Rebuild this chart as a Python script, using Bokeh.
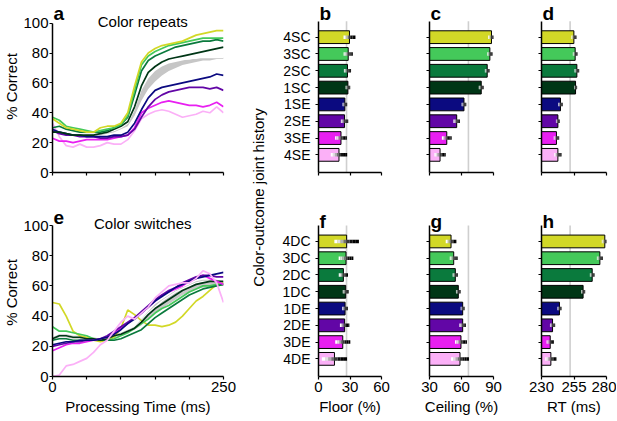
import numpy as np
from bokeh.plotting import figure
from bokeh.layouts import row, column
from bokeh.models import Range1d, FixedTicker, Label
from bokeh.embed import file_html
from bokeh.resources import INLINE

FONT = "Liberation Sans"

# ---------------- data ----------------
time_ms = [0, 10, 20, 30, 40, 50, 60, 70, 80, 90, 100, 110, 120, 130, 140, 150,
           160, 170, 180, 190, 200, 210, 220, 230, 240, 250]

# Panel a: colour repeats (% correct)
rep_4SC = [36, 33, 30, 29, 28, 27, 27, 30, 31, 31, 33, 40, 58, 74, 80, 83, 85, 86, 87, 88, 90, 92, 93, 94, 95, 95]
rep_3SC = [37, 35, 31, 30, 29, 28, 27, 28, 29, 30, 32, 38, 55, 72, 78, 81, 83, 85, 86, 87, 88, 89, 90, 90, 90, 90]
rep_2SC = [30, 31, 29, 28, 27, 27, 27, 27, 28, 30, 32, 37, 52, 68, 75, 78, 80, 82, 84, 85, 86, 87, 88, 88, 89, 88]
rep_1SC = [27, 27, 26, 25, 25, 25, 25, 26, 27, 29, 31, 34, 44, 58, 67, 71, 74, 76, 77, 78, 79, 80, 81, 82, 83, 84]
rep_1SE = [29, 27, 26, 25, 25, 24, 24, 24, 24, 25, 25, 27, 33, 42, 50, 55, 57, 58, 59, 60, 61, 62, 63, 64, 66, 65]
rep_2SE = [28, 26, 25, 25, 24, 24, 24, 23, 23, 24, 24, 25, 29, 37, 44, 49, 52, 54, 55, 56, 57, 57, 57, 56, 57, 55]
rep_3SE = [23, 21, 21, 20, 21, 22, 22, 22, 22, 23, 24, 25, 30, 40, 43, 45, 47, 48, 47, 46, 45, 45, 44, 45, 47, 44]
rep_4SE = [33, 24, 18, 17, 19, 17, 17, 18, 20, 19, 19, 22, 28, 36, 39, 41, 42, 41, 39, 37, 38, 39, 41, 40, 44, 40]
rep_band_lo = [29, 27, 26, 25, 25, 25, 25, 25, 26, 27, 29, 31, 38, 48, 56, 61, 65, 68, 70, 72, 73, 74, 75, 75, 76, 76]
rep_band_hi = [30, 28, 27, 26, 26, 26, 26, 26, 27, 28, 30, 33, 42, 55, 63, 68, 71, 73, 74, 75, 76, 76, 77, 77, 77, 77]
rep_white = [29, 28, 27, 26, 26, 25, 25, 26, 27, 28, 30, 33, 43, 57, 65, 69, 72, 74, 75, 76, 76, 77, 77, 77, 77, 77]

# Panel e: colour switches (% correct)
sw_4DC = [49, 48, 40, 30, 27, 26, 24, 23, 24, 26, 32, 44, 41, 37, 34, 34, 33, 34, 36, 40, 45, 50, 53, 57, 61, 62]
sw_3DC = [33, 30, 30, 29, 28, 27, 25, 24, 24, 25, 27, 29, 32, 35, 38, 42, 45, 47, 50, 53, 56, 58, 60, 60, 61, 61]
sw_2DC = [24, 25, 25, 24, 24, 24, 24, 24, 24, 24, 25, 27, 29, 31, 35, 39, 42, 45, 48, 51, 54, 56, 58, 59, 60, 61]
sw_1DC = [25, 27, 27, 26, 26, 25, 25, 24, 25, 27, 28, 30, 32, 36, 41, 45, 48, 51, 54, 57, 59, 61, 62, 63, 63, 63]
sw_1DE = [21, 22, 23, 23, 24, 24, 24, 25, 26, 28, 31, 35, 38, 42, 46, 50, 53, 56, 59, 61, 63, 65, 66, 67, 68, 69]
sw_2DE = [20, 21, 22, 23, 23, 24, 24, 25, 27, 30, 33, 36, 39, 43, 47, 51, 54, 57, 59, 62, 64, 66, 67, 67, 66, 66]
sw_3DE = [17, 19, 21, 22, 22, 23, 24, 25, 26, 29, 32, 35, 39, 42, 46, 50, 54, 56, 58, 60, 63, 65, 67, 65, 63, 61]
sw_4DE = [0, 1, 7, 8, 10, 12, 16, 21, 24, 30, 36, 40, 38, 42, 46, 52, 56, 60, 61, 62, 62, 65, 70, 68, 62, 49]
sw_band_lo = [24, 26, 26, 25, 25, 24, 24, 23, 24, 26, 27, 29, 31, 34, 38, 42, 45, 48, 51, 54, 56, 58, 59, 60, 60, 60]
sw_band_hi = [26, 28, 28, 27, 27, 26, 26, 25, 26, 28, 29, 31, 33, 38, 43, 48, 51, 54, 57, 59, 61, 63, 64, 64, 64, 63]
sw_white = [25, 27, 27, 26, 26, 25, 25, 24, 25, 27, 28, 30, 32, 37, 42, 46, 50, 53, 56, 58, 60, 62, 63, 63, 63, 62]

cats_rep = ["4SC", "3SC", "2SC", "1SC", "1SE", "2SE", "3SE", "4SE"]
cats_sw = ["4DC", "3DC", "2DC", "1DC", "1DE", "2DE", "3DE", "4DE"]
hist_colors = ["#d2d827", "#44c95a", "#0a7a3d", "#003616",
               "#0b0a80", "#6206a6", "#e81ff1", "#fbb0f7"]

floor_rep = [29.5, 28.3, 27.6, 28.0, 25.1, 24.8, 21.4, 19.5]
floor_rep_err = [5.7, 4.4, 3.4, 2.2, 2.2, 3.5, 5.6, 7.8]
ceil_rep = [88.1, 86.6, 84.1, 78.5, 62.3, 55.5, 46.2, 39.9]
ceil_rep_err = [3.1, 2.5, 2.2, 2.3, 2.2, 3.1, 4.6, 5.3]
rt_rep = [254.9, 255.9, 257.2, 256.2, 244.6, 242.6, 241.5, 242.6]
rt_rep_err = [2.0, 1.8, 1.8, 1.2, 1.8, 1.5, 2.1, 2.8]

floor_sw = [26.8, 26.2, 23.7, 25.9, 25.3, 24.9, 23.1, 15.2]
floor_sw_err = [11.7, 7.0, 4.4, 2.8, 2.8, 4.5, 7.2, 12.0]
ceil_sw = [50.2, 52.7, 54.2, 57.0, 61.1, 61.1, 59.5, 58.6]
ceil_sw_err = [5.0, 3.7, 2.5, 2.2, 1.9, 3.1, 5.6, 8.4]
rt_sw = [278.7, 274.9, 269.0, 262.0, 243.8, 238.5, 236.7, 237.2]
rt_sw_err = [2.3, 2.3, 1.8, 1.6, 1.6, 2.0, 2.8, 4.3]

floor_ref = 26.7
ceil_ref = 66.5
rt_ref = 252.0

floor_ticks = [0, 30, 60]
ceil_ticks = [30, 60, 90]
rt_ticks = [230, 255, 280]
time_ticks = [0, 50, 100, 150, 200, 250]
pct_ticks = [0, 20, 40, 60, 80, 100]

GRAD = ["#ffffff", "#e0e0e0", "#b0b0b0", "#707070", "#383838", "#101010", "#000000", "#000000"]

# layout geometry (pixels)
H_TOP, FH_TOP = 208, 172     # figure height, frame height (top row)
H_BOT, FH_BOT = 212, 168     # bottom row
PAD_LINE_TOP, PAD_BAR_TOP = 22.7, 20.7
PAD_LINE_BOT, PAD_BAR_BOT = 17.0, 17.0


def style(p):
    for ax in (p.xaxis[0], p.yaxis[0]):
        ax.axis_line_color = "black"
        ax.axis_line_width = 1.5
        ax.major_tick_line_color = "black"
        ax.major_tick_line_width = 1.2
        ax.major_tick_in = 0
        ax.major_tick_out = 3
        ax.minor_tick_line_color = None
        ax.major_label_text_font = FONT
        ax.major_label_text_font_size = "15px"
        ax.major_label_text_color = "black"
        ax.axis_label_text_font = FONT
        ax.axis_label_text_font_size = "15px"
        ax.axis_label_text_font_style = "normal"
        ax.axis_label_text_color = "black"
        ax.major_label_standoff = 2
        ax.axis_label_standoff = 3
    p.yaxis.axis_label_standoff = 0
    p.xgrid.visible = False
    p.ygrid.visible = False
    p.outline_line_color = None
    p.background_fill_color = "white"
    p.border_fill_color = "white"


def blank_labels(ax, ticks):
    ax.major_label_overrides = {t: "" for t in ticks}


def letter(p, x, y, txt):
    p.add_layout(Label(x=x, y=y, text=txt, text_font=FONT, text_font_size="19px",
                       text_font_style="bold", text_color="black",
                       text_baseline="top", text_align="left", x_offset=1, y_offset=-2))


def line_panel(series, lo, hi, white, title, let, h, fh, pad, bottom):
    y_end = 100 + pad * 100.0 / (fh - pad)
    p = figure(width=243, height=h, x_range=Range1d(0, 250), y_range=Range1d(0, y_end),
               toolbar_location=None, output_backend="svg", tools="",
               min_border_left=52, min_border_right=20, min_border_top=0,
               min_border_bottom=h - fh)
    p.varea(x=time_ms, y1=lo, y2=hi, fill_color="#c6c6c6", fill_alpha=1)
    p.line(time_ms, white, line_color="white", line_width=1.3)
    for ys, col in series:
        p.line(time_ms, ys, line_color=col, line_width=1.7)
    style(p)
    p.yaxis.major_label_standoff = 1
    p.xaxis.ticker = FixedTicker(ticks=time_ticks)
    p.yaxis.ticker = FixedTicker(ticks=pct_ticks)
    p.yaxis.bounds = (0, 100)
    p.yaxis.axis_label = "% Correct"
    if bottom:
        p.xaxis.major_label_overrides = {50: "", 100: "", 150: "", 200: ""}
        p.xaxis.axis_label = "Processing Time (ms)"
    else:
        blank_labels(p.xaxis[0], time_ticks)
    p.add_layout(Label(x=132, y=100, text=title, text_font=FONT, text_font_size="15px",
                       text_color="black", text_align="center", text_baseline="middle",
                       y_offset=2))
    letter(p, 0, y_end, let)
    return p


def bar_panel(vals, errs, cats, ticks, ref, let, w, h, fh, pad, bl, br,
              show_cats, bottom, xlabel=None):
    x0, x1 = ticks[0], ticks[-1]
    n = len(cats)
    top_val, bot_val = 0.05, n + 1.05
    y_top = top_val - pad * (bot_val - top_val) / (fh - pad)
    p = figure(width=w, height=h, x_range=Range1d(x0, x1), y_range=Range1d(bot_val, y_top),
               toolbar_location=None, output_backend="svg", tools="",
               min_border_left=bl, min_border_right=br, min_border_top=0,
               min_border_bottom=h - fh)
    p.segment(x0=[ref], y0=[bot_val], x1=[ref], y1=[top_val], line_color="#cfcfcf",
              line_width=1.6)
    ypos = np.arange(1, n + 1)
    v = np.array(vals, dtype=float)
    e = np.array(errs, dtype=float)
    p.hbar(y=ypos, left=x0, right=v, height=0.76, fill_color=hist_colors,
           line_color="black", line_width=1)
    k = len(GRAD)
    sx0, sx1, sy, sc = [], [], [], []
    for j in range(k):
        a = v - e + 2 * e * j / k
        b = v - e + 2 * e * (j + 1) / k
        sx0 += list(a)
        sx1 += list(b)
        sy += list(ypos)
        sc += [GRAD[j]] * n
    p.segment(x0=sx0, y0=sy, x1=sx1, y1=sy, line_color=sc, line_width=3.5, line_cap="butt")
    style(p)
    p.xaxis.ticker = FixedTicker(ticks=ticks)
    p.yaxis.ticker = FixedTicker(ticks=list(ypos))
    p.yaxis.bounds = (top_val, bot_val)
    p.yaxis.major_label_standoff = 5
    if show_cats:
        p.yaxis.major_label_overrides = {int(i): c for i, c in zip(ypos, cats)}
        p.yaxis.major_label_text_font_size = "14px"
    else:
        blank_labels(p.yaxis[0], [int(i) for i in ypos])
    if not bottom:
        blank_labels(p.xaxis[0], ticks)
    if xlabel:
        p.xaxis.axis_label = xlabel
    letter(p, x0, y_top, let)
    return p


rep_series = [(rep_4SE, hist_colors[7]), (rep_3SE, hist_colors[6]), (rep_2SE, hist_colors[5]),
              (rep_1SE, hist_colors[4]), (rep_1SC, hist_colors[3]), (rep_2SC, hist_colors[2]),
              (rep_3SC, hist_colors[1]), (rep_4SC, hist_colors[0])]
sw_series = [(sw_4DC, hist_colors[0]), (sw_3DC, hist_colors[1]), (sw_2DC, hist_colors[2]),
             (sw_1DC, hist_colors[3]), (sw_3DE, hist_colors[6]), (sw_2DE, hist_colors[5]),
             (sw_1DE, hist_colors[4]), (sw_4DE, hist_colors[7])]

pa = line_panel(rep_series, rep_band_lo, rep_band_hi, rep_white, "Color repeats", "a",
                H_TOP, FH_TOP, PAD_LINE_TOP, False)
pe = line_panel(sw_series, sw_band_lo, sw_band_hi, sw_white, "Color switches", "e",
                H_BOT, FH_BOT, PAD_LINE_BOT, True)

# y label spanning both bar rows
pl = figure(width=27, height=H_TOP + H_BOT, x_range=Range1d(0, 1), y_range=Range1d(0, 1),
            toolbar_location=None, output_backend="svg", tools="",
            x_axis_location=None, y_axis_location=None,
            min_border_left=0, min_border_right=0, min_border_top=0, min_border_bottom=0)
pl.xgrid.visible = False
pl.ygrid.visible = False
pl.outline_line_color = None
pl.add_layout(Label(x=0.556, y=0.531, text="Color-outcome joint history", angle=np.pi / 2,
                    text_font=FONT, text_font_size="15px", text_color="black",
                    text_align="center", text_baseline="middle"))

pb = bar_panel(floor_rep, floor_rep_err, cats_rep, floor_ticks, floor_ref, "b",
               131, H_TOP, FH_TOP, PAD_BAR_TOP, 48, 20, True, False)
pf = bar_panel(floor_sw, floor_sw_err, cats_sw, floor_ticks, floor_ref, "f",
               131, H_BOT, FH_BOT, PAD_BAR_BOT, 48, 20, True, True, "Floor (%)")
pc = bar_panel(ceil_rep, ceil_rep_err, cats_rep, ceil_ticks, ceil_ref, "c",
               112, H_TOP, FH_TOP, PAD_BAR_TOP, 28, 20, False, False)
pg = bar_panel(ceil_sw, ceil_sw_err, cats_sw, ceil_ticks, ceil_ref, "g",
               112, H_BOT, FH_BOT, PAD_BAR_BOT, 28, 20, False, True, "Ceiling (%)")
pd = bar_panel(rt_rep, rt_rep_err, cats_rep, rt_ticks, rt_ref, "d",
               103, H_TOP, FH_TOP, PAD_BAR_TOP, 28, 10, False, False)
ph = bar_panel(rt_sw, rt_sw_err, cats_sw, rt_ticks, rt_ref, "h",
               103, H_BOT, FH_BOT, PAD_BAR_BOT, 28, 10, False, True, "RT (ms)")

layout = row(column(pa, pe), pl, column(pb, pf), column(pc, pg), column(pd, ph))

open("out.html", "w").write(file_html(layout, INLINE))
